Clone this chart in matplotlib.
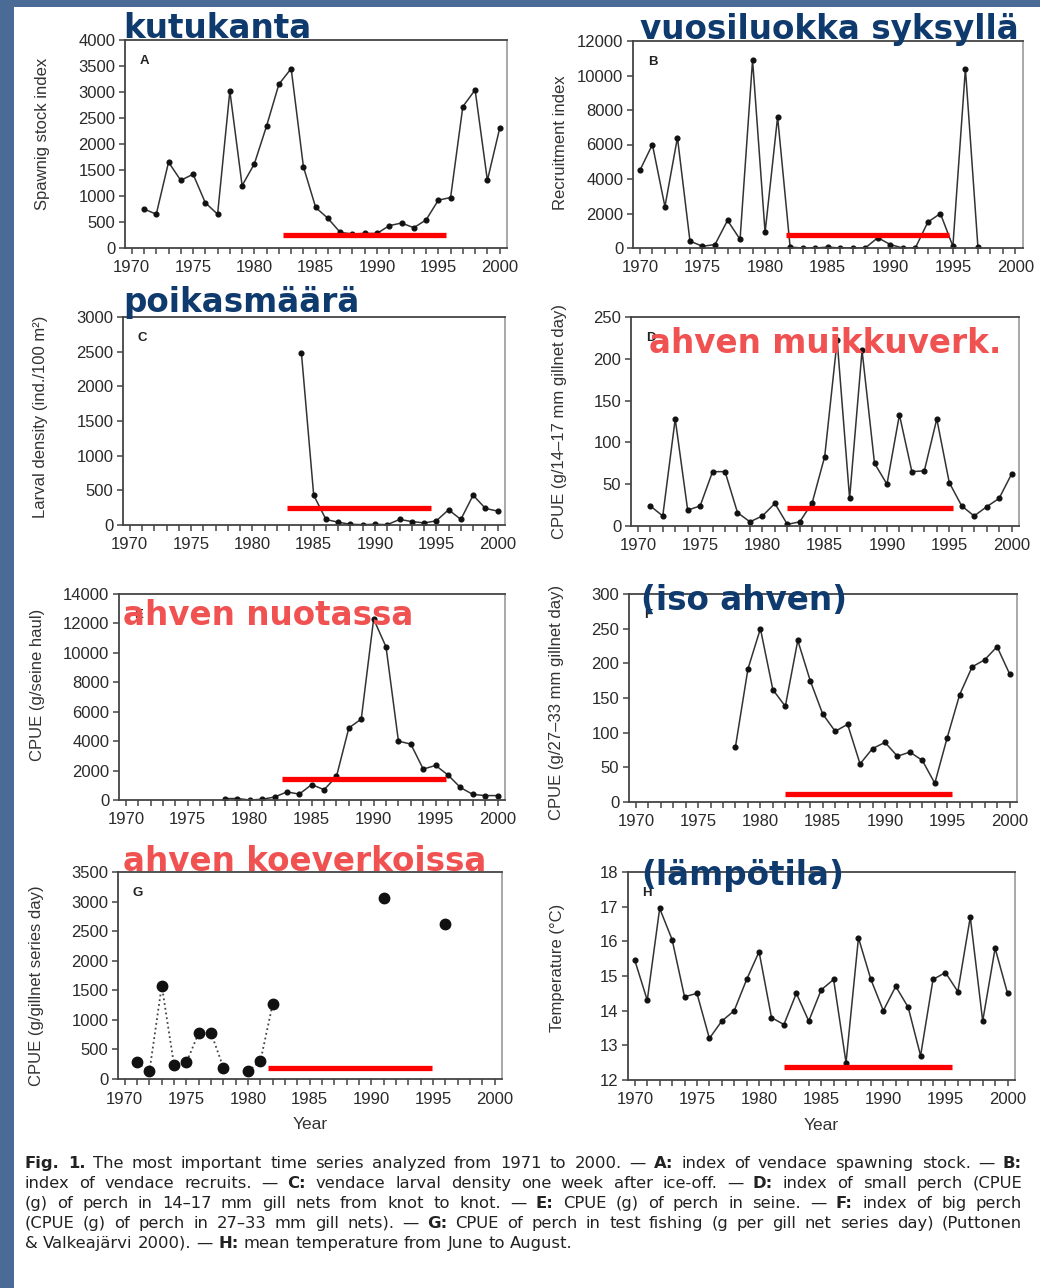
import numpy as np
import matplotlib
matplotlib.use("Agg")
import matplotlib.pyplot as plt
from matplotlib.patches import Rectangle

W, H, DPI = 1040, 1288, 100

# ---------------- data ----------------
years_a = [1971, 1972, 1973, 1974, 1975, 1976, 1977, 1978, 1979, 1980,
           1981, 1982, 1983, 1984, 1985, 1986, 1987, 1988, 1989, 1990,
           1991, 1992, 1993, 1994, 1995, 1996, 1997, 1998, 1999, 2000]
spawning_stock = [750, 650, 1650, 1300, 1420, 870, 650, 3020, 1200, 1620,
                  2350, 3150, 3450, 1560, 780, 570, 300, 270, 280, 280,
                  430, 480, 390, 540, 920, 970, 2720, 3040, 1300, 2300]

years_b = [1970, 1971, 1972, 1973, 1974, 1975, 1976, 1977, 1978, 1979,
           1980, 1981, 1982, 1983, 1984, 1985, 1986, 1987, 1988, 1989,
           1990, 1991, 1992, 1993, 1994, 1995, 1996, 1997]
recruits = [4500, 6000, 2400, 6400, 400, 100, 200, 1600, 500, 10900,
            900, 7600, 50, 0, 0, 50, 0, 0, 0, 600,
            200, 0, 0, 1500, 2000, 100, 10400, 50]

years_c = [1984, 1985, 1986, 1987, 1988, 1989, 1990, 1991, 1992, 1993,
           1994, 1995, 1996, 1997, 1998, 1999, 2000]
larval_density = [2480, 430, 80, 40, 10, 5, 10, 5, 80, 50,
                  30, 60, 220, 80, 430, 240, 200]

years_d = years_a
small_perch = [24, 12, 128, 19, 24, 65, 65, 16, 5, 12,
               27, 2, 5, 28, 83, 222, 33, 210, 75, 50,
               133, 65, 66, 128, 52, 24, 12, 23, 33, 62]

years_e = [1978, 1979, 1980, 1981, 1982, 1983, 1984, 1985, 1986, 1987,
           1988, 1989, 1990, 1991, 1992, 1993, 1994, 1995, 1996, 1997,
           1998, 1999, 2000]
perch_seine = [100, 100, 0, 50, 200, 550, 400, 1050, 700, 1600,
               4900, 5500, 12300, 10400, 4000, 3800, 2100, 2350, 1700, 850,
               380, 300, 300]

years_f = years_e
big_perch = [80, 192, 250, 162, 138, 233, 175, 127, 102, 112,
             55, 77, 86, 66, 72, 60, 27, 93, 155, 195,
             205, 224, 185]

years_g = [1971, 1972, 1973, 1974, 1975, 1976, 1977, 1978, 1979, 1980,
           1981, 1982, 1983, 1984, 1985, 1986, 1987, 1988, 1989, 1990,
           1991, 1992, 1993, 1994, 1995, 1996]
nan = float("nan")
perch_test = [280, 130, 1580, 230, 280, 780, 780, 190, nan, 130,
              300, 1270, nan, nan, nan, nan, nan, nan, nan, nan,
              3060, nan, nan, nan, nan, 2620]

years_h = [1970] + years_a
temperature = [15.45, 14.3, 16.95, 16.05, 14.4, 14.5, 13.2, 13.7, 14.0, 14.9,
               15.7, 13.8, 13.6, 14.5, 13.7, 14.6, 14.9, 12.5, 16.1, 14.9,
               14.0, 14.7, 14.1, 12.7, 14.9, 15.1, 14.55, 16.7, 13.7, 15.8,
               14.5]

panel_letters = ["A", "B", "C", "D", "E", "F", "G", "H"]
y_labels = ["Spawnig stock index", "Recruitment index",
            "Larval density (ind./100 m²)", "CPUE (g/14–17 mm gillnet day)",
            "CPUE (g/seine haul)", "CPUE (g/27–33 mm gillnet day)",
            "CPUE (g/gillnet series day)", "Temperature (°C)"]
y_max = [4000, 12000, 3000, 250, 14000, 300, 3500, 18]
y_min = [0, 0, 0, 0, 0, 0, 0, 12]
y_step = [500, 2000, 500, 50, 2000, 50, 500, 1]

# highlighted period (red bar) for each panel: start year, end year, level
period_start = [1982.3, 1981.7, 1982.8, 1982.0, 1982.6, 1982.0, 1981.6, 1982.0]
period_end = [1995.6, 1994.7, 1994.6, 1995.3, 1995.8, 1995.4, 1994.9, 1995.5]
period_level = [250, 750, 250, 22, 1450, 12, 190, 12.37]

# Finnish headings on top of the panels
heading_text = ["kutukanta", "vuosiluokka syksyllä", "poikasmäärä",
                "ahven muikkuverk.", "ahven nuotassa", "(iso ahven)",
                "ahven koeverkoissa", "(lämpötila)"]
heading_kind = ["navy", "navy", "navy", "coral", "coral", "navy", "coral", "navy"]

caption_lines = [
    [("Fig. 1.", True), ("The most important time series analyzed from 1971 to 2000. —", False),
     ("A:", True), ("index of vendace spawning stock. —", False), ("B:", True)],
    [("index of vendace recruits. —", False), ("C:", True),
     ("vendace larval density one week after ice-off. —", False), ("D:", True),
     ("index of small perch (CPUE", False)],
    [("(g) of perch in 14–17 mm gill nets from knot to knot. —", False), ("E:", True),
     ("CPUE (g) of perch in seine. —", False), ("F:", True), ("index of big perch", False)],
    [("(CPUE (g) of perch in 27–33 mm gill nets). —", False), ("G:", True),
     ("CPUE of perch in test fishing (g per gill net series day) (Puttonen", False)],
    [("& Valkeajärvi 2000). —", False), ("H:", True),
     ("mean temperature from June to August.", False)],
]

# ---------------- layout ----------------
# axes boxes in pixels: left, top, right, bottom
boxes = [(125, 40, 507, 248), (633, 41, 1023, 248),
         (123, 317, 505, 525), (631, 317, 1019, 526),
         (119, 594, 505, 800), (629, 594, 1017, 802),
         (118, 872, 502, 1079), (628, 872, 1015, 1080)]
ylabel_pos = [(-0.215, 0.55), (-0.187, 0.51), (-0.217, 0.52), (-0.183, 0.50),
              (-0.210, 0.56), (-0.186, 0.48), (-0.211, 0.45), (-0.183, 0.54)]
heading_pos = [(123, 38), (640, 39), (123, 312), (649, 353),
               (123, 625), (641, 610), (123, 871), (641, 885)]

NAVY = "#0e3a6e"
CORAL = "#f05252"
INK = "#2a2a2a"
TICK_FONT = "Liberation Sans"
CAP_SIZE = 11.8

plt.rcParams["font.family"] = ["Liberation Sans", "DejaVu Sans"]

fig = plt.figure(figsize=(W / DPI, H / DPI), dpi=DPI)
fig.patch.set_facecolor("#4a6b96")
fig.patches.append(Rectangle((14 / W, 0), 1 - 14 / W, 1 - 7 / H,
                             transform=fig.transFigure, facecolor="white",
                             edgecolor="none", zorder=-5))

series = [(years_a, spawning_stock), (years_b, recruits), (years_c, larval_density),
          (years_d, small_perch), (years_e, perch_seine), (years_f, big_perch),
          (years_g, perch_test), (years_h, temperature)]

axes = []
for i, (xs, ys) in enumerate(series):
    l, t, r, b = boxes[i]
    ax = fig.add_axes([l / W, 1 - b / H, (r - l) / W, (b - t) / H])
    axes.append(ax)
    if i == 6:
        ax.plot(xs, ys, linestyle=":", color="#444", lw=1.3, zorder=2)
        ax.plot(xs, ys, linestyle="none", marker="o", ms=7.5, color="#111", zorder=3)
    else:
        ax.plot(xs, ys, color="#333", lw=1.1, marker="o", ms=3.4,
                mfc="#111", mec="#111", zorder=2)
    ax.plot([period_start[i], period_end[i]], [period_level[i], period_level[i]],
            color="#ff0000", lw=3.8, solid_capstyle="butt", zorder=4)

    ax.set_xlim(1969.45, 2000.6)
    ax.set_ylim(y_min[i], y_max[i])
    ax.set_xticks([1970, 1975, 1980, 1985, 1990, 1995, 2000])
    ax.set_xticks(years_h, minor=True)
    ax.set_yticks(np.arange(y_min[i], y_max[i] + y_step[i] / 2, y_step[i]))
    ax.tick_params(which="both", direction="out", length=4, width=1.1,
                   color="#444", labelsize=12, labelcolor=INK, pad=3)
    ax.tick_params(axis="x", which="both", pad=5)
    for lab in ax.get_xticklabels() + ax.get_yticklabels():
        lab.set_family(TICK_FONT)
    for side in ("left", "bottom", "top"):
        ax.spines[side].set_color("#444")
        ax.spines[side].set_linewidth(1.3)
    ax.spines["right"].set_color("#999")
    ax.spines["right"].set_linewidth(1.2)

    ax.set_ylabel(y_labels[i], fontsize=12, color="#333", va="center")
    ax.yaxis.set_label_coords(*ylabel_pos[i])
    ax.text(0.05, 0.9, panel_letters[i], transform=ax.transAxes, fontsize=9.5,
            fontweight="bold", color="#222", va="center", ha="center")
    if i >= 6:
        ax.set_xlabel("Year", fontsize=12.5, color="#333", va="center")
        ax.xaxis.set_label_coords(0.5, -0.22)

for txt, kind, (x, y) in zip(heading_text, heading_kind, heading_pos):
    fig.text(x / W, 1 - y / H, txt, family="DejaVu Sans", fontweight="bold",
             fontsize=23.5, color=NAVY if kind == "navy" else CORAL,
             ha="left", va="baseline", zorder=10)

# caption, justified word by word
renderer = fig.canvas.get_renderer()
cap_left, cap_right = 25, 1022
baselines = [1168, 1188, 1208, 1228, 1248]
probe = fig.text(0, 0, "a a", family="DejaVu Sans", fontsize=CAP_SIZE)
probe2 = fig.text(0, 0, "aa", family="DejaVu Sans", fontsize=CAP_SIZE)
space_w = (probe.get_window_extent(renderer).width
           - probe2.get_window_extent(renderer).width)
probe.remove()
probe2.remove()
for li, tokens in enumerate(caption_lines):
    words = []
    for text, bold in tokens:
        for w in text.split():
            words.append((w, bold))
    arts = [fig.text(0, 1 - baselines[li] / H, w, family="DejaVu Sans",
                     fontsize=CAP_SIZE, fontweight="bold" if bd else "normal",
                     color="#222", va="baseline", ha="left")
            for w, bd in words]
    widths = [a.get_window_extent(renderer).width for a in arts]
    gap = space_w
    if li < len(caption_lines) - 1:
        gap = max(space_w * 0.6,
                  (cap_right - cap_left - sum(widths)) / (len(words) - 1))
    x = cap_left
    for a, wd in zip(arts, widths):
        a.set_x(x / W)
        x += wd + gap

fig.savefig("out.png", dpi=DPI, facecolor=fig.get_facecolor())
